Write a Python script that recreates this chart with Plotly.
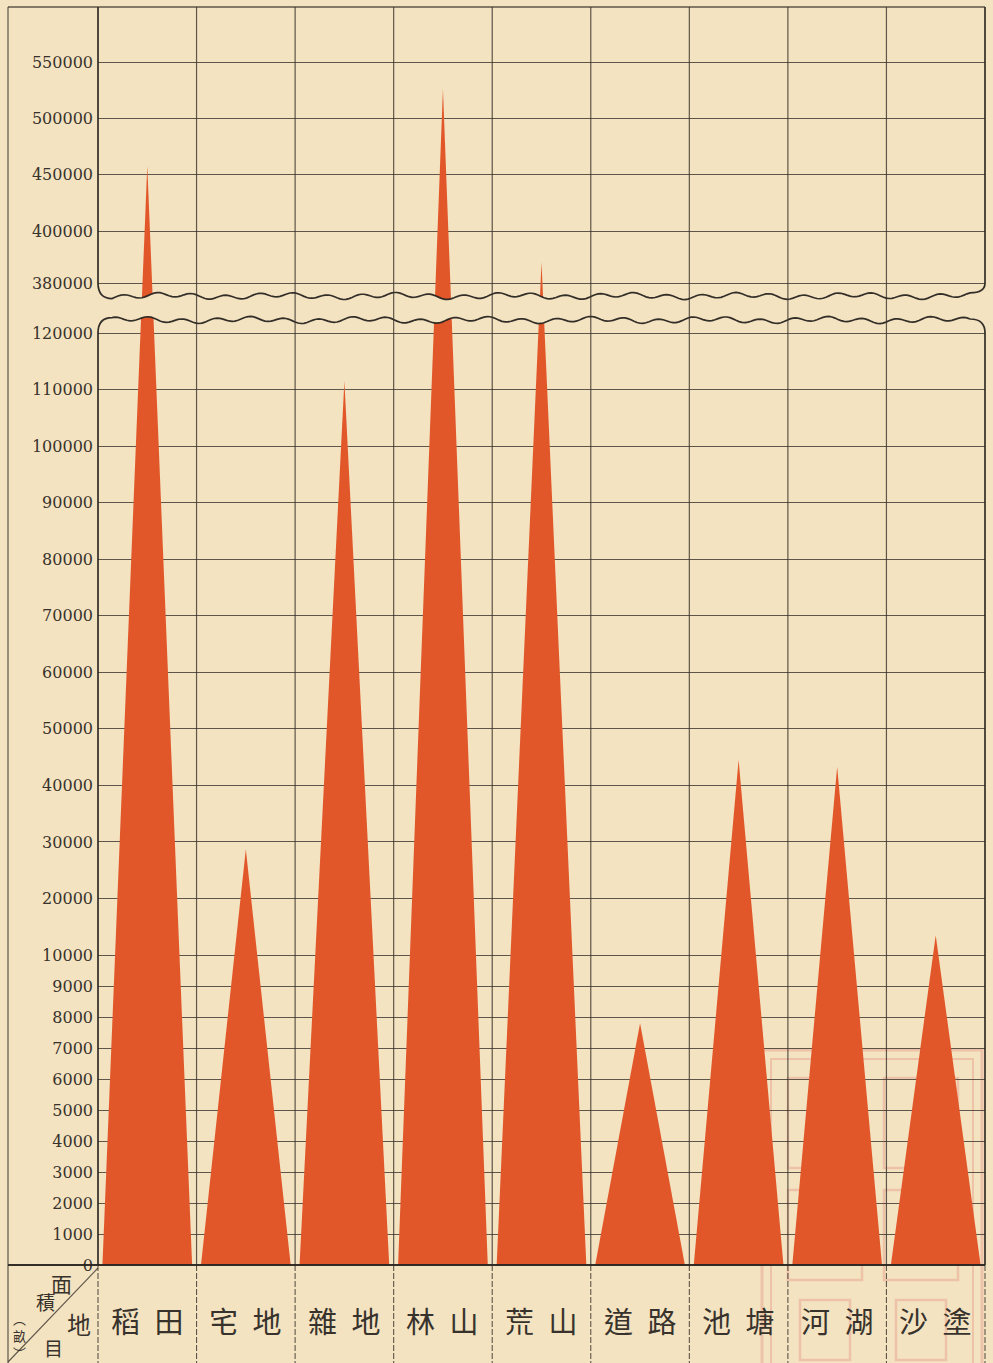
import numpy as np
import plotly.graph_objects as go

W, H = 993, 1363

# 地目 (land category) and 面積 (area in 畝)
categories = ["稻田", "宅地", "雜地", "林山", "荒山", "道路", "池塘", "河湖", "沙塗"]
areas = [458000, 28700, 111500, 526000, 388000, 7800, 44500, 43300, 13500]

tick_values = [0, 1000, 2000, 3000, 4000, 5000, 6000, 7000, 8000, 9000, 10000,
               20000, 30000, 40000, 50000, 60000, 70000, 80000, 90000, 100000,
               110000, 120000, 380000, 400000, 450000, 500000, 550000]
tick_labels = [str(v) for v in tick_values]

PAPER = "#F3E3C1"
RED = "#E2572A"
INK = "#38322C"
GRID = "rgba(56,50,44,0.8)"
SEAL = "rgba(226,118,108,0.30)"

# broken vertical scale: value -> pixel height above the baseline
SCALE_VALUES = [0, 10000, 120000, 380000, 400000, 550000]
SCALE_HEIGHTS = [0, 310, 932, 982, 1034, 1203]


def scale(v):
    return np.interp(v, SCALE_VALUES, SCALE_HEIGHTS)


# frame geometry (pixels)
LEFT, AXIS_X, RIGHT = 8, 98, 985
TOP, BASE = 7, 1265
Y_TOP = BASE - TOP
N = len(categories)
COL_W = (RIGHT - AXIS_X) / N


def fx(x):
    return x / W


def fy(y):
    return 1 - y / H


def ypx(h):
    return BASE - h


def pt(x, y):
    return f"{fx(x):.5f},{fy(y):.5f}"


fig = go.Figure()

# one triangle per land category, apex at its area
for i, v in enumerate(areas):
    fig.add_trace(go.Scatter(
        x=[i + 0.045, i + 0.5, i + 0.955, i + 0.045],
        y=[0, float(scale(v)), 0, 0],
        mode="lines", fill="toself", fillcolor=RED,
        line=dict(width=0, color=RED),
        hoverinfo="skip", showlegend=False,
    ))

shapes = []

# faint library seal in the lower right, printed under the chart
for (x0, y0, x1, y1, w) in [(762, 1050, 982, 1366, 3), (771, 1059, 973, 1366, 2),
                            (788, 1078, 862, 1168, 2.5), (884, 1078, 958, 1168, 2.5),
                            (788, 1190, 862, 1280, 2.5), (884, 1190, 958, 1280, 2.5),
                            (800, 1300, 850, 1360, 2.5), (896, 1300, 946, 1360, 2.5)]:
    shapes.append(dict(type="rect", xref="paper", yref="paper",
                       x0=fx(x0), x1=fx(x1), y0=fy(y0), y1=fy(y1),
                       line=dict(color=SEAL, width=w), fillcolor="rgba(0,0,0,0)",
                       layer="below"))

# wavy break between the 120000 and 380000 sections
def wave(mid, phase):
    xs = np.arange(AXIS_X + 14, RIGHT - 13, 3.0)
    ys = (mid + 2.2 * np.sin(2 * np.pi * (xs - AXIS_X) / 34 + phase)
          + 1.4 * np.sin(2 * np.pi * (xs - AXIS_X) / 115 + 1.0 + phase))
    return xs, ys

y_hi = ypx(float(scale(380000)))
y_lo = ypx(float(scale(120000)))
ux, uy = wave(296, 0.0)
lx, ly = wave(320, 1.7)

band = "M " + pt(AXIS_X, uy[0]) + " " + " ".join("L " + pt(x, y) for x, y in zip(ux, uy))
band += " L " + pt(RIGHT, uy[-1]) + " L " + pt(RIGHT, ly[-1]) + " "
band += " ".join("L " + pt(x, y) for x, y in zip(lx[::-1], ly[::-1]))
band += " L " + pt(AXIS_X, ly[0]) + " Z"
shapes.append(dict(type="path", path=band, xref="paper", yref="paper",
                   fillcolor=PAPER, line=dict(width=0), layer="above"))

upper = ("M " + pt(AXIS_X, TOP) + " L " + pt(AXIS_X, y_hi) +
         " Q " + pt(AXIS_X, uy[0]) + " " + pt(ux[0], uy[0]) + " " +
         " ".join("L " + pt(x, y) for x, y in zip(ux, uy)) +
         " Q " + pt(RIGHT, uy[-1]) + " " + pt(RIGHT, y_hi) +
         " L " + pt(RIGHT, TOP))
lower = ("M " + pt(AXIS_X, BASE) + " L " + pt(AXIS_X, y_lo) +
         " Q " + pt(AXIS_X, ly[0]) + " " + pt(lx[0], ly[0]) + " " +
         " ".join("L " + pt(x, y) for x, y in zip(lx, ly)) +
         " Q " + pt(RIGHT, ly[-1]) + " " + pt(RIGHT, y_lo) +
         " L " + pt(RIGHT, BASE))
for p in (upper, lower):
    shapes.append(dict(type="path", path=p, xref="paper", yref="paper",
                       line=dict(color="rgba(40,36,32,0.95)", width=1.7), layer="above"))

# column rules
for k in range(1, N):
    x = AXIS_X + k * COL_W
    shapes.append(dict(type="line", xref="paper", yref="paper",
                       x0=fx(x), x1=fx(x), y0=fy(TOP), y1=fy(BASE),
                       line=dict(color=GRID, width=1.2), layer="above"))
for k in range(0, N + 1):
    x = AXIS_X + k * COL_W
    shapes.append(dict(type="line", xref="paper", yref="paper",
                       x0=fx(x), x1=fx(x), y0=fy(BASE), y1=fy(H),
                       line=dict(color=GRID, width=1.1, dash="6px,2px"), layer="above"))

# outer frame, baseline and the corner diagonal
shapes += [
    dict(type="line", xref="paper", yref="paper", x0=fx(LEFT), x1=fx(RIGHT),
         y0=fy(TOP), y1=fy(TOP), line=dict(color=GRID, width=1.4)),
    dict(type="line", xref="paper", yref="paper", x0=fx(LEFT), x1=fx(RIGHT),
         y0=fy(BASE), y1=fy(BASE), line=dict(color="rgba(40,36,32,0.95)", width=1.8),
         layer="above"),
    dict(type="line", xref="paper", yref="paper", x0=fx(LEFT), x1=fx(LEFT),
         y0=fy(TOP), y1=fy(H), line=dict(color=GRID, width=1.2)),
    dict(type="line", xref="paper", yref="paper", x0=fx(LEFT), x1=fx(AXIS_X),
         y0=fy(H - 1), y1=fy(BASE + 3), line=dict(color=GRID, width=1.1)),
]

annotations = []
CJK = "Noto Sans CJK TC"
for i, cat in enumerate(categories):
    annotations.append(dict(
        x=i + 0.5, y=fy(1320), xref="x", yref="paper",
        text=cat[0] + "\u2002" + cat[1], showarrow=False,
        font=dict(family=CJK, size=29, color=INK),
        xanchor="center", yanchor="middle"))

# corner header: 面積(畝) above the diagonal, 地目 below it
for txt, x, y, s in [("面", 61, 1283, 21), ("積", 45, 1301, 19),
                     ("地", 79, 1323, 24), ("目", 53, 1347, 19)]:
    annotations.append(dict(x=fx(x), y=fy(y), xref="paper", yref="paper", text=txt,
                            showarrow=False, font=dict(family=CJK, size=s, color=INK),
                            xanchor="center", yanchor="middle"))
annotations.append(dict(x=fx(19), y=fy(1335), xref="paper", yref="paper",
                        text="\ufe35<br>畝<br>\ufe36", showarrow=False,
                        font=dict(family=CJK, size=13, color=INK),
                        xanchor="center", yanchor="middle"))

fig.update_layout(
    width=W, height=H, autosize=False,
    margin=dict(l=0, r=0, t=0, b=0),
    paper_bgcolor=PAPER, plot_bgcolor=PAPER,
    showlegend=False,
    xaxis=dict(domain=[fx(AXIS_X), fx(RIGHT)], range=[0, N],
               showgrid=False, zeroline=False, showticklabels=False,
               ticks="", showline=False, fixedrange=True),
    yaxis=dict(domain=[fy(BASE), fy(TOP)], range=[0, Y_TOP],
               tickmode="array", tickvals=[float(t) for t in scale(tick_values)],
               ticktext=tick_labels, showgrid=True, gridcolor=GRID, gridwidth=1.2,
               zeroline=False, ticks="", showline=False, automargin=False,
               ticklabelstandoff=4, fixedrange=True,
               tickfont=dict(family="DejaVu Serif", size=16, color=INK)),
    shapes=shapes,
    annotations=annotations,
)

fig.write_html("out.html")
